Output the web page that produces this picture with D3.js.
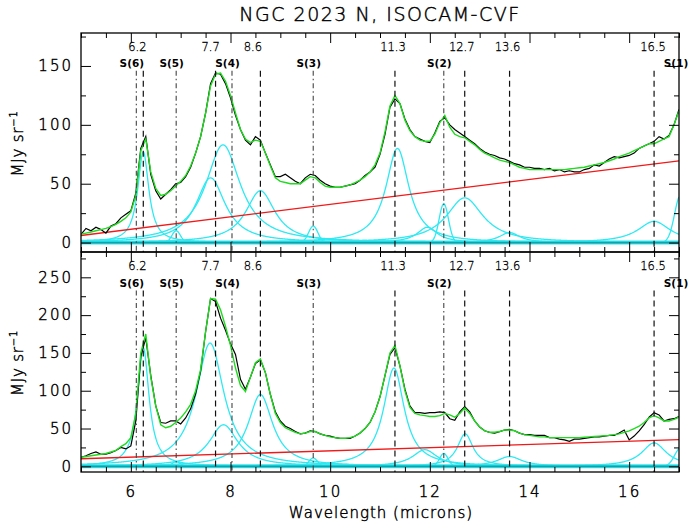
<!DOCTYPE html>
<html>
<head>
<meta charset="utf-8">
<script src="https://cdn.jsdelivr.net/npm/d3@7"></script>
<style>
  html, body { margin: 0; padding: 0; background: #fff; }
  svg { display: block; }
  text { font-family: "DejaVu Sans", "Liberation Sans", sans-serif; fill: #000; }
  .thin { font-weight: 200; stroke: #000; stroke-width: 0.45px; }
</style>
</head>
<body>
<svg id="chart" width="688" height="530"></svg>
<script>
// ---------------- data ----------------
const title = "NGC 2023 N, ISOCAM-CVF";
const xLabel = "Wavelength (microns)";

// wavelength grid of the spectra (microns), 5.0 .. 17.0 in 0.1 steps
const waveStart = 5.0, waveStep = 0.1;

// upper panel: observed spectrum and total fit (MJy/sr)
const topObserved = [
  7, 12, 10, 13, 11, 8, 14, 16, 21, 24,
  27, 42, 80, 90, 58, 44, 37, 41, 45, 50,
  51, 56, 64, 76, 90, 110, 135, 144, 143, 135,
  123, 108, 96, 87, 83, 90, 87, 76, 66, 56,
  56, 58, 55, 52, 50, 55, 58, 57, 53, 50,
  48, 47, 47, 48, 49, 50, 53, 57, 60, 64,
  75, 92, 115, 122, 118, 105, 96, 90, 88, 86,
  85, 93, 103, 106, 100, 96, 93, 90, 87, 84,
  80, 77, 75, 74, 72, 71, 69, 67, 66, 64,
  64, 63, 63, 62, 63, 61, 62, 60, 61, 60,
  60, 62, 63, 66, 65, 68, 71, 73, 72, 73,
  74, 76, 80, 82, 84, 86, 90, 88, 91, 100,
  113
];
const topFit = [
  7, 8, 9, 10, 11, 12, 13.5, 15.5, 18, 21,
  26, 40, 78, 88, 60, 46, 40, 41, 44, 48,
  52, 57, 65, 76, 90, 110, 133, 143, 144, 137,
  125, 110, 96, 88, 85, 87, 86, 76, 65, 55,
  52, 51, 50, 50, 50, 53, 56, 55, 51, 48,
  47, 47, 47, 48, 49, 51, 53, 56, 60, 66,
  76, 94, 116, 125, 118, 104, 95, 90, 87, 86,
  86, 92, 102, 108, 98, 92, 90, 89, 86, 83,
  79, 76, 74, 72, 70, 69, 68, 66, 64, 63,
  62, 62, 62, 62, 62, 62, 62, 62, 62.5, 63,
  63.5, 64, 65, 66, 67, 68, 69.5, 71, 73, 74.5,
  76, 78, 80, 82, 84, 84, 86, 88, 90, 100,
  112
];
// lower panel: observed spectrum and total fit (MJy/sr)
const botObserved = [
  12, 14, 17, 19, 16, 16, 18, 21, 25, 23,
  27, 60, 145, 170, 120, 80, 58, 57, 60, 60,
  56, 64, 76, 96, 126, 178, 222, 218, 196, 180,
  162, 148, 115, 102, 118, 136, 141, 124, 95, 72,
  60, 53, 50, 46, 43, 44, 47, 46, 43, 41,
  40, 38, 37, 37, 37, 40, 44, 50, 58, 72,
  92, 120, 148, 157, 133, 102, 80, 71, 71, 70,
  71, 71, 72, 71, 63, 61, 72, 79, 72, 60,
  52, 47, 45, 44, 46, 48, 49, 47, 44, 42,
  42, 41, 41, 41, 38, 38, 36, 35, 33, 36,
  36, 37, 38, 39, 39, 40, 41, 41, 44, 48,
  35, 40, 47, 55, 65, 71, 68, 60, 62, 63,
  66
];
const botFit = [
  12, 13, 14, 15, 16, 17, 19, 21, 26, 30,
  38, 70, 150, 175, 118, 80, 55, 51, 53, 58,
  64, 72, 82, 100, 128, 178, 222, 221, 207, 185,
  160, 130, 107, 99, 118, 137, 142, 124, 95, 70,
  58, 51, 48, 45, 43, 44, 46, 46, 43, 41,
  39, 38, 37, 37, 38, 40, 44, 50, 58, 72,
  92, 120, 150, 160, 133, 100, 78, 70, 68, 67,
  66, 66, 67, 70, 68, 65, 70, 77, 70, 60,
  52, 47, 45, 45, 46, 48, 48, 47, 44, 42,
  41, 40, 39, 39, 38, 38, 38, 38, 38, 38,
  38, 38.5, 39, 39.5, 40, 40.5, 41, 42, 43, 45,
  47, 50, 53, 58, 64, 67, 64, 60, 60, 62,
  65
];

// linear continuum: value at 5 and at 17 microns
const contWave = [5, 17];
const topContinuum = [6, 69.4];
const botContinuum = [10, 35.3];

// dust bands (Lorentz profiles): centre, peak, FWHM (microns)
const topBandCenter = [6.25, 7.60, 7.85, 8.60, 11.35, 11.95, 12.70, 13.60, 16.50];
const topBandPeak   = [77,   55,   83,   44,   80,    13,    38,    8.5,   18];
const topBandFwhm   = [0.27, 0.72, 0.85, 0.72, 0.56,  0.50,  0.90,  0.50,  0.80];
const botBandCenter = [6.25, 7.59, 7.86, 8.60, 11.28, 11.90, 12.71, 13.60, 16.50];
const botBandPeak   = [157,  163,  55,   95,   130,   22,    43,    13,    31];
const botBandFwhm   = [0.28, 0.68, 0.70, 0.60, 0.50,  0.60,  0.38,  0.60,  0.60];

// H2 lines (Gaussian profiles): centre, peak, FWHM (microns)
const topLineCenter = [6.91, 9.66, 12.28, 17.03];
const topLinePeak   = [10,   14,   33,    40];
const topLineFwhm   = [0.20, 0.22, 0.22,  0.28];
const botLineCenter = [6.91, 9.66, 12.28, 17.03];
const botLinePeak   = [6,    11,   17,    24];
const botLineFwhm   = [0.20, 0.20, 0.20,  0.28];

// feature markers
const pahWave  = [6.25, 7.7, 8.6, 11.3, 12.7, 13.6, 16.5];
const pahNames = ["6.2", "7.7", "8.6", "11.3", "12.7", "13.6", "16.5"];
const pahNameAt = [6.13, 7.60, 8.45, 11.26, 12.64, 13.56, 16.48];
const h2Wave  = [6.11, 6.91, 8.03, 9.66, 12.28, 17.03];
const h2Names = ["S(6)", "S(5)", "S(4)", "S(3)", "S(2)", "S(1)"];
const h2NameAt = [6.02, 6.82, 7.94, 9.57, 12.19, 16.94];

// axis ticks
const xMajorTicks = [6, 8, 10, 12, 14, 16];
const topYTicks = [0, 50, 100, 150];
const botYTicks = [0, 50, 100, 150, 200, 250];

// ---------------- drawing ----------------
const svg = d3.select("#chart");
const X0 = 81, X1 = 679;
const x = d3.scaleLinear().domain([5, 17]).range([X0, X1]);

const panels = [
  { id: "top", y0: 33, y1: 252, dom: [-8, 178], yTicks: topYTicks, yMinor: 25,
    obs: topObserved, fit: topFit, cont: topContinuum,
    bc: topBandCenter, bp: topBandPeak, bw: topBandFwhm,
    lc: topLineCenter, lp: topLinePeak, lw: topLineFwhm, xLabels: false },
  { id: "bot", y0: 252, y1: 472, dom: [-7.5, 283.5], yTicks: botYTicks, yMinor: 25,
    obs: botObserved, fit: botFit, cont: botContinuum,
    bc: botBandCenter, bp: botBandPeak, bw: botBandFwhm,
    lc: botLineCenter, lp: botLinePeak, lw: botLineFwhm, xLabels: true }
];

const wave = topObserved.map((_, i) => +(waveStart + i * waveStep).toFixed(2));
const fine = d3.range(5, 17.0001, 0.01);

function lorentz(l, c, h, fwhm) {
  const u = (l - c) / (fwhm / 2);
  return h / (1 + u * u);
}
function gauss(l, c, h, fwhm) {
  const s = fwhm / 2.3548;
  const u = (l - c) / s;
  return h * Math.exp(-0.5 * u * u);
}

const CYAN = "#2ee9f2";

panels.forEach(p => {
  const y = d3.scaleLinear().domain(p.dom).range([p.y1, p.y0]);
  const g = svg.append("g");

  const clipId = "clip-" + p.id;
  svg.append("clipPath").attr("id", clipId)
    .append("rect").attr("x", X0).attr("y", p.y0)
    .attr("width", X1 - X0).attr("height", p.y1 - p.y0);

  const plot = g.append("g").attr("clip-path", `url(#${clipId})`);
  const line = d3.line().x(d => x(d[0])).y(d => y(d[1]));

  // fitted band and line components
  p.bc.forEach((c, i) => {
    plot.append("path")
      .attr("d", line(fine.map(l => [l, lorentz(l, c, p.bp[i], p.bw[i])])))
      .attr("fill", "none").attr("stroke", CYAN).attr("stroke-width", 1.3);
  });
  p.lc.forEach((c, i) => {
    plot.append("path")
      .attr("d", line(fine.map(l => [l, gauss(l, c, p.lp[i], p.lw[i])])))
      .attr("fill", "none").attr("stroke", CYAN).attr("stroke-width", 1.3);
  });

  // zero level
  plot.append("line").attr("x1", X0).attr("x2", X1)
    .attr("y1", y(0)).attr("y2", y(0))
    .attr("stroke", CYAN).attr("stroke-width", 4);
  plot.append("line").attr("x1", X0).attr("x2", X1)
    .attr("y1", y(0)).attr("y2", y(0))
    .attr("stroke", "#1a9ea6").attr("stroke-width", 1.6);

  // continuum
  plot.append("path")
    .attr("d", line(contWave.map((l, i) => [l, p.cont[i]])))
    .attr("fill", "none").attr("stroke", "#f01818").attr("stroke-width", 1.3);

  // observed spectrum and total fit
  plot.append("path")
    .attr("d", line(wave.map((l, i) => [l, p.obs[i]])))
    .attr("fill", "none").attr("stroke", "#000").attr("stroke-width", 1.2);
  plot.append("path")
    .attr("d", line(wave.map((l, i) => [l, p.fit[i]])))
    .attr("fill", "none").attr("stroke", "#1fdc1f").attr("stroke-width", 1.4);

  // feature markers
  const span = p.dom[1];
  const markTop = y(span * 0.82);
  pahWave.forEach(l => {
    plot.append("line").attr("x1", x(l)).attr("x2", x(l))
      .attr("y1", markTop).attr("y2", p.y1)
      .attr("stroke", "#111").attr("stroke-width", 1.2)
      .attr("stroke-dasharray", "6,4");
  });
  h2Wave.forEach(l => {
    plot.append("line").attr("x1", x(l)).attr("x2", x(l))
      .attr("y1", markTop).attr("y2", p.y1)
      .attr("stroke", "#444").attr("stroke-width", 1.1)
      .attr("stroke-dasharray", "5,3,1.5,3");
  });
  pahNames.forEach((t, i) => {
    g.append("text").attr("class", "thin")
      .attr("x", x(pahNameAt[i])).attr("y", y(span * 0.935))
      .attr("dy", "0.35em").attr("text-anchor", "middle")
      .attr("font-size", 11.5).style("stroke-width", "0.3px").text(t);
  });
  h2Names.forEach((t, i) => {
    g.append("text").attr("x", x(h2NameAt[i])).attr("y", y(span * 0.855))
      .attr("dy", "0.35em").attr("text-anchor", "middle")
      .attr("font-size", 10.5).attr("font-weight", "bold").text(t);
  });

  // axes: major and minor ticks on all four sides, pointing inward
  const yMinorVals = d3.range(0, p.dom[1], p.yMinor).filter(v => !p.yTicks.includes(v));
  const xMinorVals = d3.range(5, 17.01, 0.5).filter(v => !xMajorTicks.includes(v));

  g.append("g").attr("transform", `translate(${X0},0)`)
    .call(d3.axisLeft(y).tickValues(p.yTicks).tickSize(-10).tickPadding(8));
  g.append("g").attr("transform", `translate(${X0},0)`)
    .call(d3.axisLeft(y).tickValues(yMinorVals).tickSize(-5).tickFormat(""));
  g.append("g").attr("transform", `translate(${X1},0)`)
    .call(d3.axisRight(y).tickValues(p.yTicks).tickSize(-10).tickFormat(""));
  g.append("g").attr("transform", `translate(${X1},0)`)
    .call(d3.axisRight(y).tickValues(yMinorVals).tickSize(-5).tickFormat(""));

  g.append("g").attr("transform", `translate(0,${p.y1})`)
    .call(d3.axisBottom(x).tickValues(xMajorTicks).tickSize(-10).tickPadding(14)
      .tickFormat(p.xLabels ? d3.format("d") : ""));
  g.append("g").attr("transform", `translate(0,${p.y1})`)
    .call(d3.axisBottom(x).tickValues(xMinorVals).tickSize(-5).tickFormat(""));
  g.append("g").attr("transform", `translate(0,${p.y0})`)
    .call(d3.axisTop(x).tickValues(xMajorTicks).tickSize(-10).tickFormat(""));
  g.append("g").attr("transform", `translate(0,${p.y0})`)
    .call(d3.axisTop(x).tickValues(xMinorVals).tickSize(-5).tickFormat(""));

  g.selectAll(".domain").attr("stroke", "none");
  g.selectAll(".tick line").attr("stroke", "#000").attr("stroke-width", 1);
  g.selectAll(".tick text").attr("class", "thin").attr("font-size", 15)
    .attr("letter-spacing", "2px")
    .attr("font-family", "DejaVu Sans, sans-serif");

  // frame
  g.append("rect").attr("x", X0).attr("y", p.y0)
    .attr("width", X1 - X0).attr("height", p.y1 - p.y0)
    .attr("fill", "none").attr("stroke", "#000").attr("stroke-width", 1.3);

  // y label
  const ly = g.append("text").attr("class", "thin")
    .attr("transform", `translate(23,${(p.y0 + p.y1) / 2 + 1}) rotate(-90)`)
    .attr("text-anchor", "middle").attr("font-size", 15).attr("letter-spacing", "0.8px");
  ly.append("tspan").text("MJy sr");
  ly.append("tspan").attr("dy", -6).attr("font-size", 10).text("\u22121");
});

svg.append("text").attr("class", "thin").attr("x", 380).attr("y", 21)
  .attr("text-anchor", "middle")
  .attr("font-size", 19).attr("letter-spacing", "1.5px").text(title);
svg.append("text").attr("class", "thin").attr("x", 381).attr("y", 518)
  .attr("text-anchor", "middle")
  .attr("font-size", 15).attr("letter-spacing", "1px").text(xLabel);
</script>
</body>
</html>
